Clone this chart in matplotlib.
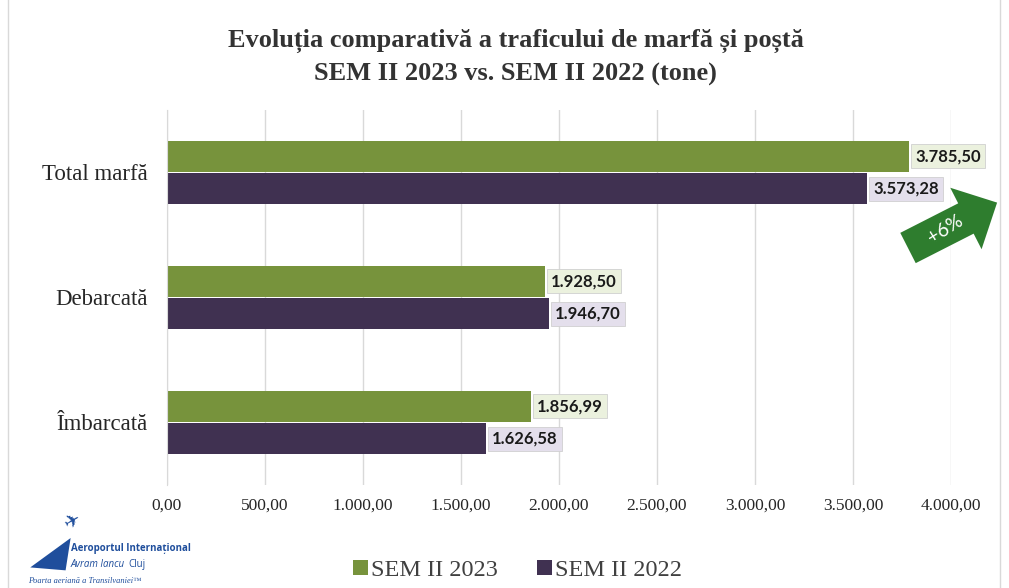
import numpy as np
import matplotlib.pyplot as plt
from matplotlib.patches import Polygon, Rectangle

categories = ['Total marfă', 'Debarcată', 'Îmbarcată']
sem2023 = [3785.50, 1928.50, 1856.99]
sem2022 = [3573.28, 1946.70, 1626.58]
series_names = ['SEM II 2023', 'SEM II 2022']
xticks = [0, 500, 1000, 1500, 2000, 2500, 3000, 3500, 4000]


def ro_fmt(v):
    s = f"{v:,.2f}"
    return s.replace(',', 'X').replace('.', ',').replace('X', '.')


green = '#77933C'
purple = '#403151'
serif = 'Liberation Serif'

fig = plt.figure(figsize=(10.09, 5.88), dpi=100)
ax = fig.add_axes([0.1655, 0.1752, 0.777, 0.6378])

# chart frame
fig.patches.append(Rectangle((0.008, -0.01), 0.983, 1.02, transform=fig.transFigure,
                             fill=False, edgecolor='#D9D9D9', linewidth=1))

y = np.arange(len(categories))[::-1]
h = 0.25
b1 = ax.barh(y + 0.13, sem2023, height=h, color=green, label=series_names[0])
b2 = ax.barh(y - 0.13, sem2022, height=h, color=purple, label=series_names[1])

for bars, bg in [(b1, '#EBF1DE'), (b2, '#E4DFEC')]:
    for r in bars:
        ax.annotate(ro_fmt(r.get_width()), (r.get_width(), r.get_y() + r.get_height() / 2),
                    xytext=(4.5, 0), textcoords='offset points', va='center', ha='left',
                    fontsize=12, fontweight='bold', family='Lato', color='#1a1a1a',
                    bbox=dict(boxstyle='square,pad=0.25', fc=bg, ec='#D0D0D0', lw=0.6))

ax.set_xlim(0, 4000)
ax.set_ylim(-0.5, 2.5)
ax.set_xticks(xticks)
ax.set_xticklabels([ro_fmt(v) for v in xticks], family=serif, fontsize=12.5)
ax.set_yticks(y)
ax.set_yticklabels(categories, family=serif, fontsize=16.5)
ax.tick_params(axis='both', length=0, colors='#262626')
ax.tick_params(axis='x', pad=9)
ax.tick_params(axis='y', pad=14)
ax.grid(axis='x', color='#D9D9D9', linewidth=1)
ax.set_axisbelow(True)
for s in ['top', 'right', 'bottom']:
    ax.spines[s].set_visible(False)
ax.spines['left'].set_color('#D9D9D9')

fig.text(0.511, 0.93, 'Evoluția comparativă a traficului de marfă și poștă',
         ha='center', va='center', family=serif, fontweight='bold', fontsize=19, color='#333333')
fig.text(0.511, 0.873, 'SEM II 2023 vs. SEM II 2022 (tone)',
         ha='center', va='center', family=serif, fontweight='bold', fontsize=19, color='#333333')

leg = fig.legend(loc='center', bbox_to_anchor=(0.513, 0.03), ncol=2, frameon=False,
                 prop={'family': serif, 'size': 17.5}, handlelength=0.6, handleheight=0.6,
                 handletextpad=0.15, columnspacing=1.6)
for t in leg.get_texts():
    t.set_color('#404040')

# +6% arrow (pixel geometry converted to figure fraction)
W, H = 1009, 588
ang = np.deg2rad(27)
d = np.array([np.cos(ang), np.sin(ang)])
n = np.array([-d[1], d[0]])
tail = np.array([908, 588 - 248])
bl, hl, bw, hw = 65, 35, 34, 69
pts = [tail + n * bw / 2, tail + d * bl + n * bw / 2, tail + d * bl + n * hw / 2,
       tail + d * (bl + hl), tail + d * bl - n * hw / 2, tail + d * bl - n * bw / 2,
       tail - n * bw / 2]
pts = [(p[0] / W, p[1] / H) for p in pts]
fig.patches.append(Polygon(pts, closed=True, transform=fig.transFigure,
                           facecolor='#2E7D2E', edgecolor='none'))
c = tail + d * 42
fig.text(c[0] / W, c[1] / H, '+6%', rotation=32, ha='center', va='center',
         color='white', fontsize=14, family='Lato', rotation_mode='anchor')

# logo
fig.text(0.072, 0.115, '✈', fontsize=14, color='#1F4E9C', rotation=30, ha='center', va='center')
fig.patches.append(Polygon([(0.03, 0.035), (0.07, 0.085), (0.065, 0.03)], closed=True,
                           transform=fig.transFigure, facecolor='#1F4E9C', edgecolor='none'))
fig.text(0.07, 0.068, 'Aeroportul Internațional', fontsize=7, fontweight='bold',
         color='#1F4E9C', family='Open Sans', va='center')
fig.text(0.07, 0.04, 'Avram Iancu', fontsize=7, style='italic', color='#1F4E9C',
         family='Open Sans', va='center')
fig.text(0.127, 0.04, 'Cluj', fontsize=7, color='#1F4E9C', family='Open Sans', va='center')
fig.text(0.028, 0.012, 'Poarta aeriană a Transilvaniei™', fontsize=6, style='italic',
         color='#1F4E9C', family=serif, va='center')

fig.savefig('out.png', dpi=100)
